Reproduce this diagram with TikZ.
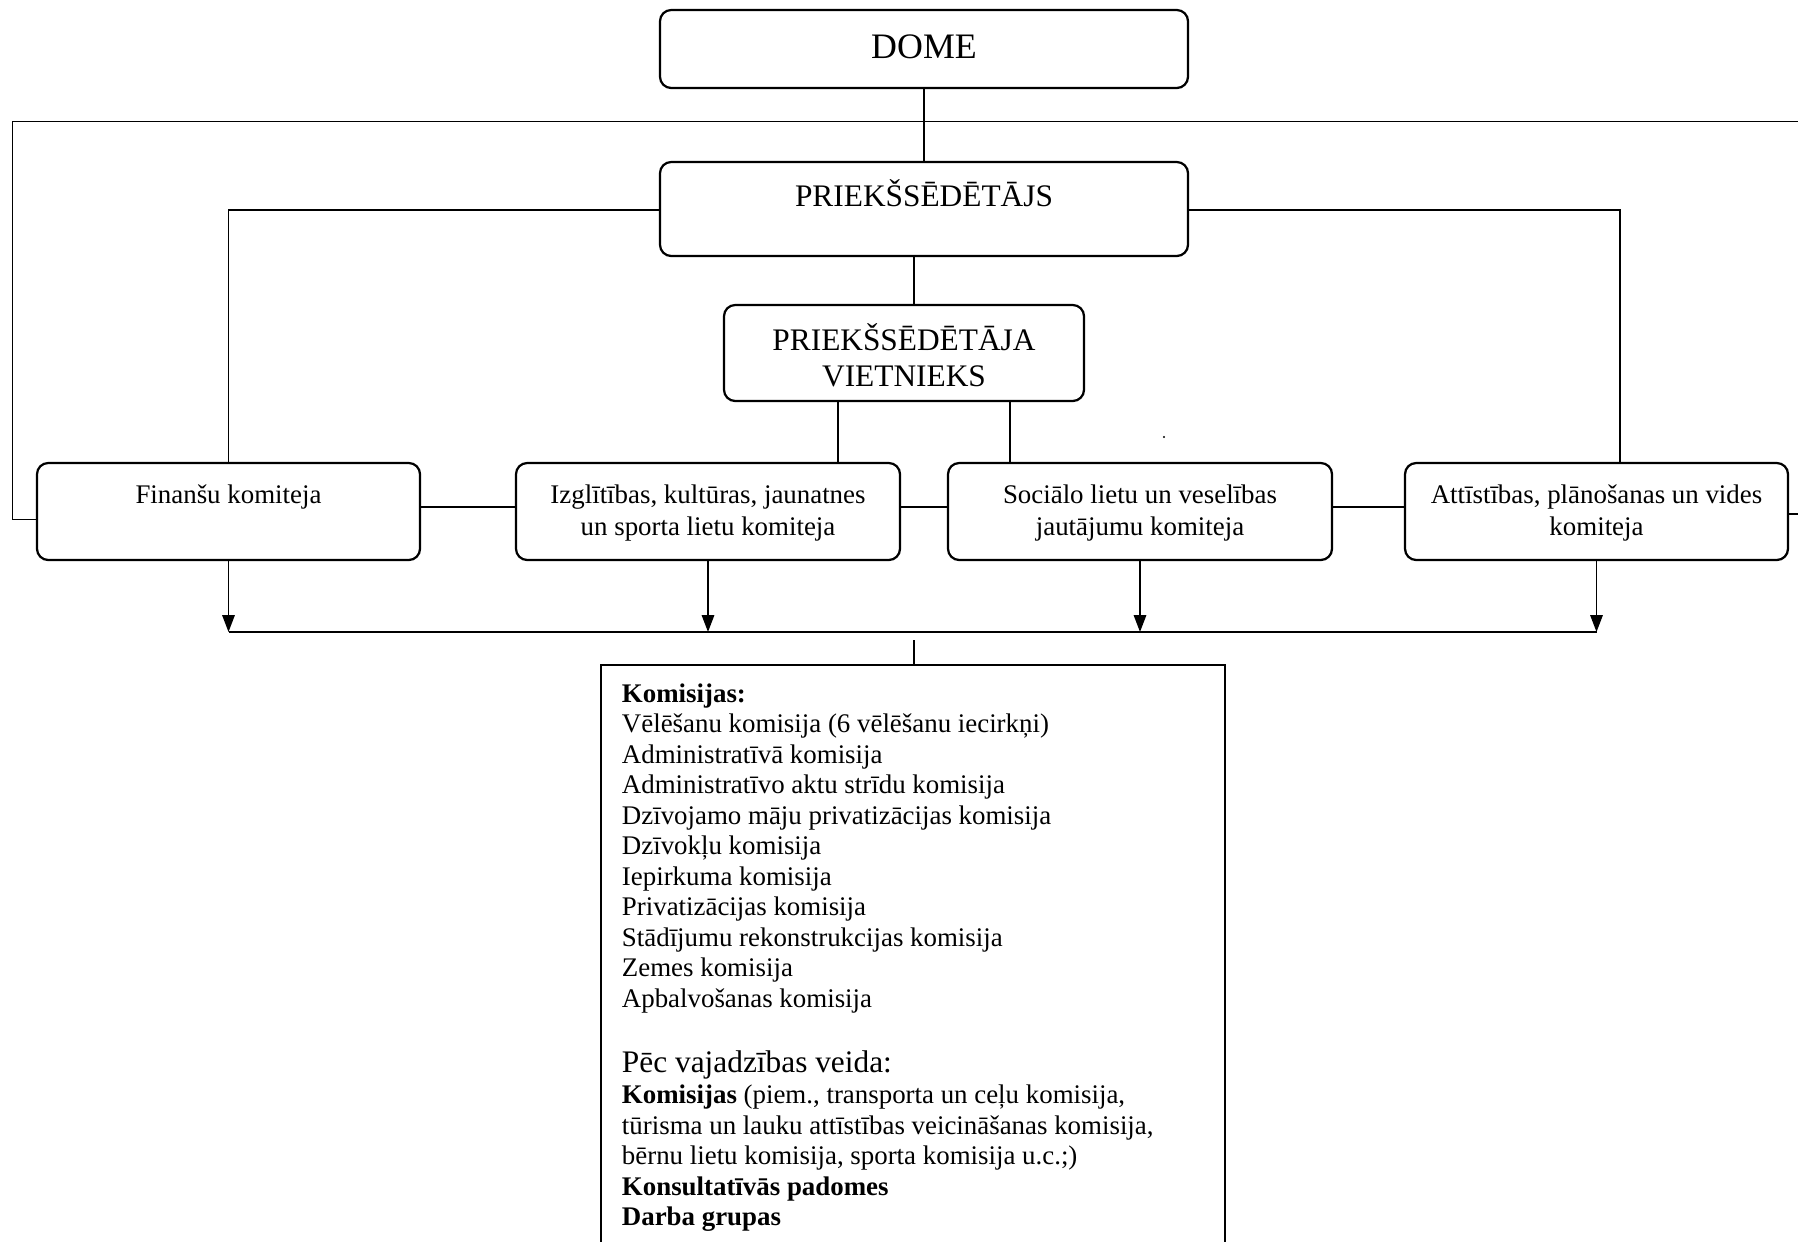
\documentclass[tikz,border=0pt]{standalone}
\usepackage{fontspec}
\setmainfont{Liberation Serif}
\usetikzlibrary{arrows.meta,fit}
\begin{document}
\begin{tikzpicture}[x=0.4464pt,y=-0.4464pt,
  box/.style={draw, line width=1pt, rounded corners=5pt, inner sep=0pt},
  sqbox/.style={draw, line width=1pt, inner sep=0pt},
  conn/.style={line width=0.8pt},
  arr/.style={conn,-{Triangle[length=7.5pt,width=5.5pt]}},
  txt/.style={inner sep=0pt, anchor=base, font=\fontsize{12}{13.8}\selectfont},
  ltxt/.style={inner sep=0pt, anchor=base west, font=\fontsize{12}{13.8}\selectfont},
  big/.style={inner sep=0pt, anchor=base, font=\fontsize{14}{16}\selectfont}]
\useasboundingbox (0,0) rectangle (1798,1241);
\clip (0,0) rectangle (1798,1241);
\fill[white] (0,0) rectangle (1798,1241);

% boxes
\node[box, fit={(660,10) (1188,88)}] (dome) {};
\node[box, fit={(660,162) (1188,256)}] (pr) {};
\node[box, fit={(724,305) (1084,401)}] (vi) {};
\node[box, fit={(37,463) (420,560)}] (fin) {};
\node[box, fit={(516,463) (900,560)}] (izg) {};
\node[box, fit={(948,463) (1332,560)}] (soc) {};
\node[box, fit={(1405,463) (1788,560)}] (att) {};
\node[sqbox, fit={(601,665) (1225,1320)}] (kom) {};

% box texts
\node[inner sep=0pt, anchor=base, font=\fontsize{16}{19}\selectfont] (domet) at (924,58) {DOME};
\node[big] (prt) at (924,206.5) {PRIEKŠSĒDĒTĀJS};
\node[big] (vit1) at (904,350.5) {PRIEKŠSĒDĒTĀJA};
\node[big] (vit2) at (904,386.5) {VIETNIEKS};
\node[txt] (fint) at (228.5,503) {Finanšu komiteja};
\node[txt] (izgt1) at (708,503) {Izglītības, kultūras, jaunatnes};
\node[txt] (izgt2) at (708,535) {un sporta lietu komiteja};
\node[txt] (soct1) at (1140,503) {Sociālo lietu un veselības};
\node[txt] (soct2) at (1140,535) {jautājumu komiteja};
\node[txt] (attt1) at (1596.5,503) {Attīstības, plānošanas un vides};
\node[txt] (attt2) at (1596.5,535) {komiteja};

% Komisijas list
\node[ltxt] (k1) at (621.5,702) {\textbf{Komisijas:}};
\node[ltxt] (k2) at (621.5,732.5) {Vēlēšanu komisija (6 vēlēšanu iecirkņi)};
\node[ltxt] (k3) at (621.5,763) {Administratīvā komisija};
\node[ltxt] (k4) at (621.5,793.5) {Administratīvo aktu strīdu komisija};
\node[ltxt] (k5) at (621.5,824) {Dzīvojamo māju privatizācijas komisija};
\node[ltxt] (k6) at (621.5,854.5) {Dzīvokļu komisija};
\node[ltxt] (k7) at (621.5,885) {Iepirkuma komisija};
\node[ltxt] (k8) at (621.5,915.5) {Privatizācijas komisija};
\node[ltxt] (k9) at (621.5,946) {Stādījumu rekonstrukcijas komisija};
\node[ltxt] (k10) at (621.5,976.5) {Zemes komisija};
\node[ltxt] (k11) at (621.5,1007) {Apbalvošanas komisija};
\node[ltxt, font=\fontsize{14}{16}\selectfont] (k12) at (621.5,1072.5) {Pēc vajadzības veida:};
\node[ltxt] (k13) at (621.5,1103.7) {\textbf{Komisijas} (piem., transporta un ceļu komisija,};
\node[ltxt] (k14) at (621.5,1134.2) {tūrisma un lauku attīstības veicināšanas komisija,};
\node[ltxt] (k15) at (621.5,1164.7) {bērnu lietu komisija, sporta komisija u.c.;)};
\node[ltxt] (k16) at (621.5,1195.2) {\textbf{Konsultatīvās padomes}};
\node[ltxt] (k17) at (621.5,1225.7) {\textbf{Darba grupas}};

% connectors
\draw[conn] (dome.south) -- (pr.north);
\draw[conn] (fin.west |- 0,519.5) -| (12.6,121.5) -- (1830,121.5) |- (att.east |- 0,513.7);
\draw[conn] (pr.west |- 0,210) -| (fin.north);
\draw[conn] (pr.east |- 0,210) -| (att.north -| 1620,0);
\draw[conn] (pr.south -| 914,0) -- (vi.north -| 914,0);
\draw[conn] (vi.south -| 838,0) -- (izg.north -| 838,0);
\draw[conn] (vi.south -| 1010,0) -- (soc.north -| 1010,0);
\draw[conn] (fin.east |- 0,507) -- (izg.west |- 0,507);
\draw[conn] (izg.east |- 0,507) -- (soc.west |- 0,507);
\draw[conn] (soc.east |- 0,507) -- (att.west |- 0,507);
\draw[arr] (fin.south) -- (fin.south |- 0,632);
\draw[arr] (izg.south) -- (izg.south |- 0,632);
\draw[arr] (soc.south) -- (soc.south |- 0,632);
\draw[arr] (att.south) -- (att.south |- 0,632);
\draw[conn] (fin.south |- 0,632) -- (att.south |- 0,632);
\coordinate (ks) at (914,640);
\draw[conn] (ks) -- (ks |- kom.north);
\fill (1164,437) circle (1.2);
\end{tikzpicture}
\end{document}
